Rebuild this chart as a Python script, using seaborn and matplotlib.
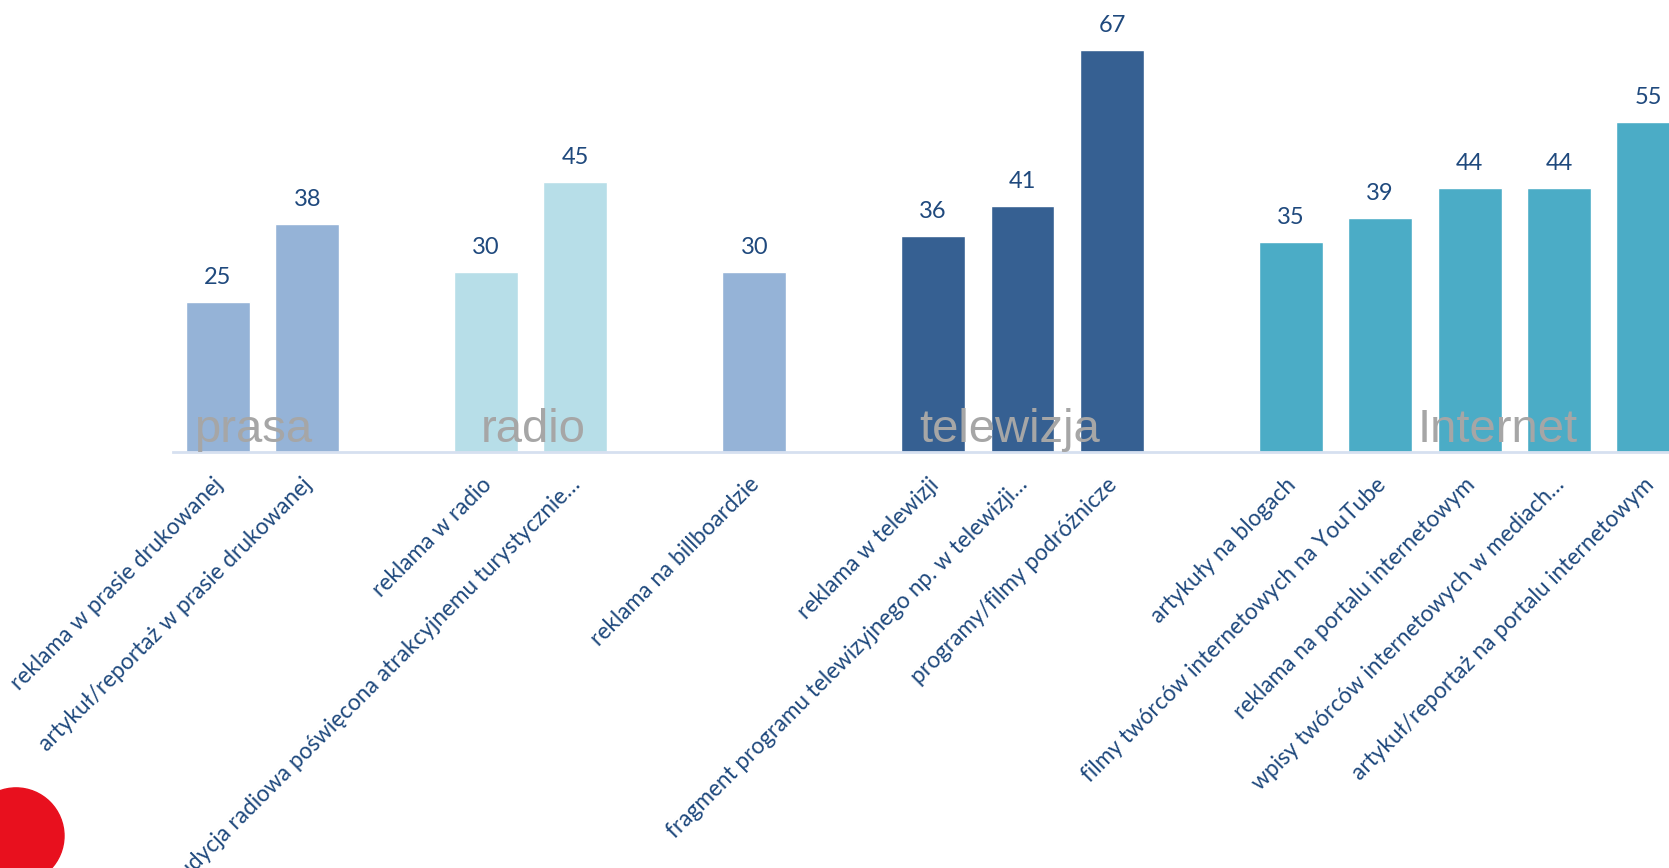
import pandas as pd
import matplotlib.pyplot as plt
import matplotlib.transforms as mtransforms
from matplotlib.patches import Ellipse
import seaborn as sns

# labels as shown under the bars (long ones are cut off in the original)
categories = ['reklama w prasie drukowanej',
              'artykuł/reportaż w prasie drukowanej',
              'reklama w radio',
              'audycja radiowa poświęcona atrakcyjnemu turystycznie…',
              'reklama na billboardzie',
              'reklama w telewizji',
              'fragment programu telewizyjnego np. w telewizji…',
              'programy/filmy podróżnicze',
              'artykuły na blogach',
              'filmy twórców internetowych na YouTube',
              'reklama na portalu internetowym',
              'wpisy twórców internetowych w mediach…',
              'artykuł/reportaż na portalu internetowym']
values = [25, 38, 30, 45, 30, 36, 41, 67, 35, 39, 44, 44, 55]
media = ['prasa', 'prasa', 'radio', 'radio', 'billboard',
         'telewizja', 'telewizja', 'telewizja',
         'Internet', 'Internet', 'Internet', 'Internet', 'Internet']
group_names = ['prasa', 'radio', 'telewizja', 'Internet']

colors = {'prasa': '#95B3D7', 'radio': '#B7DEE8', 'billboard': '#95B3D7',
          'telewizja': '#366092', 'Internet': '#4BACC6'}
bar_colors = {c: colors[m] for c, m in zip(categories, media)}

# empty slots between the media groups
gap = [' ', '  ', '   ', '    ']
order = (categories[0:2] + [gap[0]] + categories[2:4] + [gap[1]] +
         categories[4:5] + [gap[2]] + categories[5:8] + [gap[3]] +
         categories[8:13])

df = pd.DataFrame({'kategoria': categories, 'wartosc': values, 'media': media})

sns.set_theme(style='white')
plt.rcParams['font.family'] = ['Lato', 'DejaVu Sans']
label_blue = '#1F497D'

fig = plt.figure(figsize=(16.69, 8.68), dpi=100)
ax = fig.add_axes([0.1037, 0.479, 0.8963, 0.521])

sns.barplot(data=df, x='kategoria', y='wartosc', hue='kategoria', order=order,
            hue_order=categories, palette=bar_colors, width=0.715,
            legend=False, ax=ax, saturation=1)

for cont in ax.containers:
    ax.bar_label(cont, padding=10, fontsize=17, color=label_blue)

ax.set_xlim(-0.5, 16.23)
ax.set_ylim(0, 75.3)
ax.set_xlabel('')
ax.set_ylabel('')
ax.set_yticks([])
for s in ['top', 'right', 'left']:
    ax.spines[s].set_visible(False)
ax.spines['bottom'].set_color('#D6E0F0')
ax.spines['bottom'].set_linewidth(2)

ax.tick_params(axis='x', length=0, pad=21)
shift = mtransforms.ScaledTranslation(2 / 100, 0, fig.dpi_scale_trans)
for lab in ax.get_xticklabels():
    lab.set_rotation(45)
    lab.set_ha('right')
    lab.set_va('center')
    lab.set_rotation_mode('anchor')
    lab.set_fontsize(16.3)
    lab.set_color(label_blue)
    lab.set_transform(lab.get_transform() + shift)

# group names written over the bars
group_x = [0.40, 3.53, 8.86, 14.31]
for name, gx in zip(group_names, group_x):
    ax.text(gx, 1.7, name, ha='center', va='baseline', fontsize=34,
            color='#A6A6A6', family=['Liberation Sans', 'DejaVu Sans'])

# small red logo in the corner
fig.patches.append(Ellipse((0.0096, 0.037), 0.0575, 0.0575 * 1669 / 868,
                           transform=fig.transFigure, color='#E8101E',
                           zorder=0))

plt.savefig('out.png', dpi=100)
